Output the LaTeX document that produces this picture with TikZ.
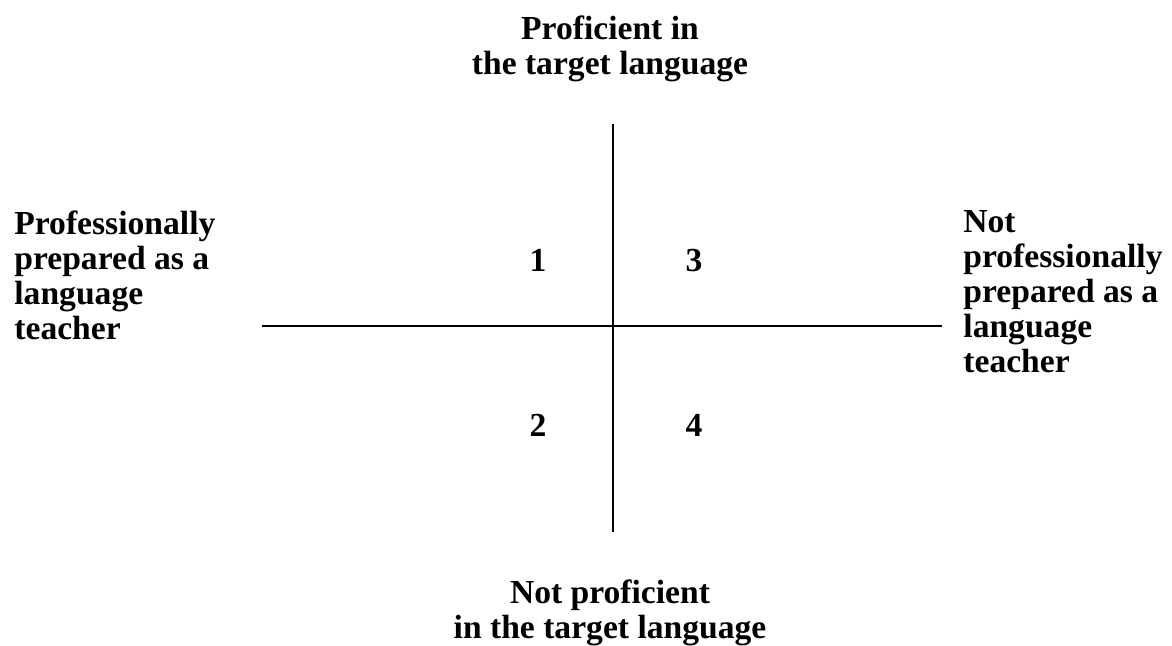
\documentclass[tikz,border=0pt]{standalone}
\usepackage{fontspec}
\setmainfont{Liberation Serif}
\usetikzlibrary{positioning}

\begin{document}
\begin{tikzpicture}[x=0.5pt,y=-0.5pt,
  lbl/.style={font=\bfseries\fontsize{16.8}{17.5}\selectfont,inner sep=0pt},
  num/.style={font=\bfseries\fontsize{16.8}{17.5}\selectfont,inner sep=0pt,anchor=base},
  axis/.style={line width=1pt}]
\useasboundingbox (0,0) rectangle (1172,646);
% axes
\coordinate (top) at (613,124);
\coordinate (bot) at (613,532);
\coordinate (lft) at (262,326);
\coordinate (rgt) at (942,326);
\draw[axis] (top) -- (bot);
\draw[axis] (lft) -- (rgt);
% quadrant numbers
\node[num] (q1) at (538,272) {1};
\node[num] (q3) at (694,272) {3};
\node[num] (q2) at (538,437) {2};
\node[num] (q4) at (694,437) {4};
% axis labels
\node[lbl,align=center,anchor=north] (prof) at (610,15) {Proficient in\\the target language};
\node[lbl,align=center,anchor=north] (notprof) at (610,579) {Not proficient\\in the target language};
\node[lbl,align=left,anchor=north west] (prep) at (14,210) {Professionally\\prepared as a\\language\\teacher};
\node[lbl,align=left,anchor=north west] (notprep) at (963,210) {Not\\professionally\\prepared as a\\language\\teacher};
\end{tikzpicture}
\end{document}
